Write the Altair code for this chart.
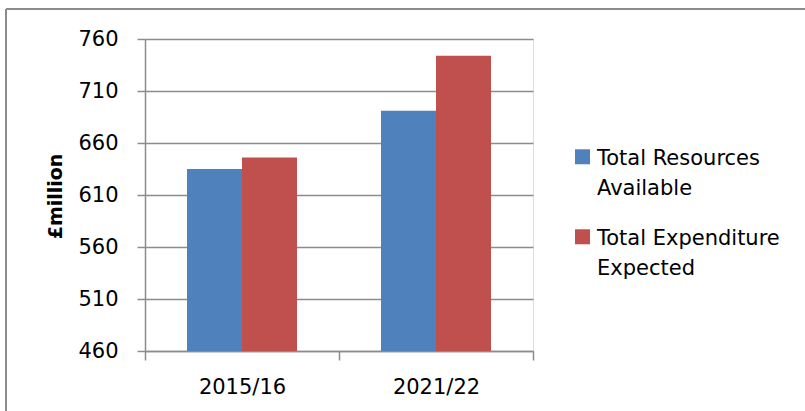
import altair as alt
import pandas as pd

categories = ["2015/16", "2021/22"]
series = ["Total Resources Available", "Total Expenditure Expected"]
resources = [635, 691]
expenditure = [646, 744]
colors = ["#4F81BD", "#C0504D"]
y_ticks = [460, 510, 560, 610, 660, 710, 760]

rows = []
for i, c in enumerate(categories):
    rows.append({"period": c, "series": series[0], "value": resources[i]})
    rows.append({"period": c, "series": series[1], "value": expenditure[i]})
df = pd.DataFrame(rows)

FONT = "DejaVu Sans"
GRAY = "#8c8c8c"
W, H = 388, 312

bars = alt.Chart(df).mark_bar().encode(
    x=alt.X("period:N", sort=categories,
            scale=alt.Scale(paddingInner=0, paddingOuter=0),
            axis=alt.Axis(title=None, labelAngle=0, tickBand="extent", tickSize=9,
                          tickColor=GRAY, tickWidth=1.5, domainColor=GRAY, domainWidth=1.5,
                          labelPadding=16, labelFont=FONT, labelFontSize=21,
                          labelColor="black", grid=False)),
    xOffset=alt.XOffset("series:N", sort=series,
                        scale=alt.Scale(paddingInner=0, paddingOuter=0.7636)),
    y=alt.Y("value:Q", scale=alt.Scale(domain=[460, 760], zero=False, nice=False),
            axis=alt.Axis(title="£million", values=y_ticks, tickSize=8, tickColor=GRAY,
                          tickWidth=1.5, domainColor=GRAY, domainWidth=1.5,
                          gridColor=GRAY, gridWidth=1.5, labelPadding=19,
                          labelFont=FONT, labelFontSize=21, labelColor="black",
                          titleFont=FONT, titleFontSize=19, titleFontWeight="bold",
                          titleColor="black", titleX=-90, titleY=157,
                          titleBaseline="middle", titleAlign="center", titleAngle=-90)),
    y2=alt.Y2(datum=460),
    color=alt.Color("series:N", sort=series,
                    scale=alt.Scale(domain=series, range=colors),
                    legend=alt.Legend(title=None, orient="none", legendX=427, legendY=115,
                                      symbolType="M-1,-2.03H1V-0.03H-1Z", symbolSize=225,
                                      symbolStrokeWidth=0, labelFont=FONT,
                                      labelFontSize=21, labelColor="black",
                                      labelBaseline="alphabetic",
                                      labelOffset=4, rowPadding=28, padding=0,
                                      labelLimit=300,
                                      labelExpr="[slice(datum.label, 0, lastindexof(datum.label, ' ')), slice(datum.label, lastindexof(datum.label, ' ') + 1)]")),
)

frame_src = alt.Data(values=[{"k": 0}])
left_edge = alt.Chart(frame_src).mark_rule(color=GRAY, strokeWidth=2).encode(
    x=alt.value(-139), y=alt.value(-30), y2=alt.value(400))
top_edge = alt.Chart(frame_src).mark_rule(color=GRAY, strokeWidth=2).encode(
    x=alt.value(-139), x2=alt.value(680), y=alt.value(-30))

chart = alt.layer(bars, left_edge, top_edge).properties(
    width=W, height=H,
    autosize=alt.AutoSizeParams(type="none"),
    padding={"left": 145, "top": 39, "right": 805 - 145 - W, "bottom": 411 - 39 - H},
    background="white",
).configure_view(stroke=None).configure(style={"guide-label": {"lineHeight": 30}})

chart.save("out.html", embed_options={"renderer": "svg", "actions": False})
